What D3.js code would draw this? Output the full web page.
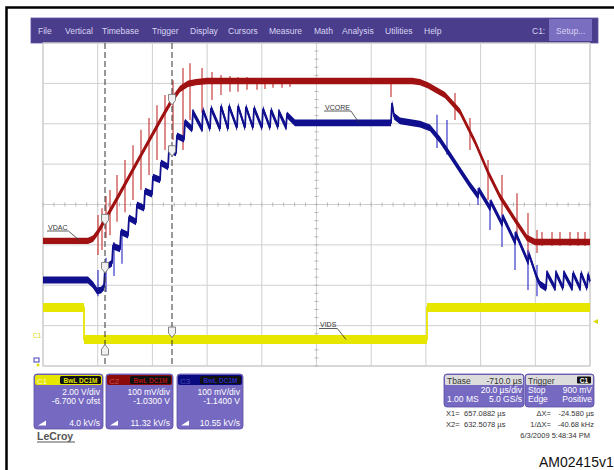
<!DOCTYPE html>
<html><head><meta charset="utf-8">
<script src="https://cdn.jsdelivr.net/npm/d3@7"></script>
<style>
html,body{margin:0;padding:0;background:#fff;}
svg{display:block;font-family:"Liberation Sans",Arial,sans-serif;}
</style></head><body>
<svg id="c" width="614" height="470"></svg>
<script>
// ================= DATA =================
const menuItems = ["File","Vertical","Timebase","Trigger","Display","Cursors","Measure","Math","Analysis","Utilities","Help"];
const timeDomain = [0, 200];              // µs across the screen (20 µs/div, 10 div)
const chNames = ["C1","C2","C3"];
const chVdiv = [2.0, 0.1, 0.1];           // V/div
const chOffset = [-6.7, -1.03, -1.14];    // V offset
const chVdivLabel = ["2.00 V/div","100 mV/div","100 mV/div"];
const chOffsetLabel = ["-6.700 V ofst","-1.0300 V","-1.1400 V"];
const chRateLabel = ["4.0 kV/s","11.32 kV/s","10.55 kV/s"];
const chBadge = "BwL DC1M";

// C1 (yellow, VIDS) [µs, V]
const yellowTrace = [[0,1.6],[15.0,1.6],[15.0,0.01],[140.4,0.01],[140.4,1.6],[200,1.6]];

// C2 (red, VDAC) [µs, V]
const redTrace = [[0,0.940],[16.45,0.940],[18.28,0.945],[20.11,0.962],[22.67,0.992],[28.15,1.058],[35.47,1.148],
  [42.78,1.237],[47.17,1.289],[50.09,1.316],[53.02,1.329],[55.94,1.333],[60.0,1.336],[93.97,1.336],[135.0,1.336],
  [137.84,1.333],[140.77,1.325],[146.98,1.301],[152.47,1.260],[157.95,1.185],[162.71,1.110],[167.09,1.050],
  [172.58,0.992],[176.97,0.947],[179.89,0.937],[200,0.937]];
// red spikes [µs, Vtop, Vbottom]
const redSpikes = [[20.11,1.004,0.905],[21.57,1.021,0.917],[23.03,1.051,0.947],[24.50,1.066,0.954],[27.06,1.103,0.987],
  [29.98,1.140,1.011],[32.91,1.177,1.041],[35.83,1.215,1.066],[38.76,1.244,1.103],[41.68,1.276,1.140],[44.61,1.301,1.165],
  [47.53,1.338,1.190],[51.19,1.368,1.165],[53.75,1.380,1.239],[58.14,1.368,1.257],[61.79,1.358,1.289],[65.08,1.351,1.301],
  [68.37,1.348,1.309],[71.30,1.346,1.309],[74.59,1.346,1.314],[78.24,1.343,1.314],[81.17,1.343,1.316],[84.10,1.343,1.319],
  [87.39,1.343,1.319],[90.31,1.341,1.321],[127.24,1.343,1.296],[150.64,1.306,1.239],[156.12,1.244,1.165],
  [162.71,1.140,1.041],[167.82,1.103,1.004],[173.31,1.058,0.942],[177.33,1.009,0.893],[180.62,0.967,0.910],
  [182.45,0.962,0.927],[186.11,0.962,0.927],[189.03,0.962,0.927],[192.69,0.962,0.927],[195.61,0.962,0.927],[198.17,0.962,0.927]];

// C3 (blue, VCORE) [µs, V]
const blueTrace = [[0,0.953],[16.45,0.953],[18.28,0.941],[19.74,0.926],[21.21,0.928],
  [22.30,0.936],[22.67,0.983],[25.23,0.995],[25.59,1.037],[28.15,1.030],[28.52,1.072],[31.08,1.064],[31.44,1.107],
  [34.00,1.097],[34.37,1.139],[36.93,1.131],[37.29,1.173],[39.85,1.166],[40.22,1.208],[42.78,1.201],[43.14,1.243],
  [45.70,1.233],[46.07,1.275],[48.63,1.268],[48.99,1.310],[51.55,1.302],[51.92,1.344],[54.48,1.327],[54.84,1.369],
  [58.14,1.327],[58.50,1.374],[61.06,1.327],[61.43,1.379],[64.72,1.327],[65.08,1.384],[67.64,1.327],[68.01,1.384],
  [70.93,1.330],[71.30,1.384],[73.86,1.330],[74.22,1.382],[76.78,1.330],[77.15,1.379],[80.07,1.330],[80.44,1.377],
  [83.00,1.330],[83.36,1.374],[85.92,1.332],[86.29,1.369],[88.85,1.332],[89.21,1.362],[92.14,1.342],
  [126.87,1.342],[127.24,1.342],[127.61,1.391],[128.34,1.359],[130.53,1.347],[137.84,1.339],[141.50,1.330],
  [145.16,1.300],[148.81,1.263],[152.47,1.225],[156.12,1.188],[159.05,1.161],[159.41,1.176],[163.44,1.131],[163.80,1.146],
  [167.82,1.092],[168.19,1.109],[172.58,1.047],[172.94,1.067],[177.33,0.998],[177.70,1.017],[180.62,0.958],[181.72,0.943],
  [183.91,0.933],[184.28,0.970],[187.20,0.933],[187.57,0.970],[190.13,0.933],[190.49,0.970],[193.42,0.933],[193.78,0.970],
  [196.34,0.933],[196.71,0.970],[198.90,0.933],[199.27,0.968],[200,0.950]];
const blueSpikes = [[20.11,0.978,0.913],[23.03,1.008,0.923],[25.96,1.047,0.963],[28.88,1.077,0.993],
  [144.06,1.362,1.280],[147.71,1.349,1.263],[159.05,1.181,1.139],[163.44,1.151,1.077],[167.82,1.114,1.035],
  [172.58,1.072,0.978],[177.33,1.027,0.928],[180.62,0.990,0.913]];

const cursorTimes = [22.67, 47.17];       // µs
const traceLabels = ["VDAC","VCORE","VIDS"];
const traceLabelTargets = [[13.5,1,0.940],[115.6,2,1.342],[110.8,0,0.01]]; // [µs, channel, V]

const tbaseRows = [["Tbase","-710.0 µs"],["","20.0 µs/div"],["1.00 MS","5.0 GS/s"]];
const trigRows = [["Trigger",""],["Stop","900 mV"],["Edge","Positive"]];
const cursorReadout = [["X1=","657.0882 µs","ΔX=","-24.580 µs"],["X2=","632.5078 µs","1/ΔX=","-40.68 kHz"]];
const timestamp = "6/3/2009 5:48:34 PM";
const figId = "AM02415v1";

// ================= LAYOUT / STYLE =================
const svg = d3.select("#c");
const P = {l:43, r:590, t:43, b:366};
const chColor = ["#e6e600","#a01212","#10108e"];
const spikeColor = ["#e6e600","#c83a3a","#3434c8"];
const headColor = ["#e6e600","#8c0a0a","#0a0a80"];
const badgeText = ["#e6e600","#b01010","#2828c8"];
const purple = "#7669c2";
const menuX = [38,65,102,152,190,228,269,314,342,385,424];

const x = d3.scaleLinear().domain(timeDomain).range([P.l, P.r]);
const div = d3.scaleLinear().domain([-4,4]).range([P.b, P.t]);
const yS = chNames.map((n,i)=>{const c=-chOffset[i], v=chVdiv[i];
  return d3.scaleLinear().domain([c-4*v, c+4*v]).range([P.b, P.t]);});

// outer frame
svg.append("path").attr("d","M6.5,470V7.5H614").attr("fill","none").attr("stroke","#000").attr("stroke-width",2.5);

// menu bar
svg.append("rect").attr("x",31).attr("y",18).attr("width",567).attr("height",25).attr("fill","#4a3d8c").attr("stroke","#5d52a0").attr("stroke-width",0.8);
svg.selectAll(".menu").data(menuItems).join("text").attr("x",(d,i)=>menuX[i]).attr("y",34)
  .attr("font-size",8.5).attr("fill","#d8d4f2").text(d=>d);
svg.append("text").attr("x",532).attr("y",34).attr("font-size",8.5).attr("fill","#d8d4f2").text("C1:");
svg.append("rect").attr("x",549).attr("y",19).attr("width",43).attr("height",22).attr("fill","#7a6ec0");
svg.append("text").attr("x",556).attr("y",34).attr("font-size",8.5).attr("fill","#d8d4f2").text("Setup...");

// plot area & grid
svg.append("rect").attr("x",P.l).attr("y",P.t).attr("width",P.r-P.l).attr("height",P.b-P.t).attr("fill","#fff").attr("stroke","#c4c4c4");
const g = svg.append("g");
g.selectAll(".vg").data(d3.range(0,201,20)).join("line").attr("x1",d=>x(d)).attr("x2",d=>x(d)).attr("y1",P.t).attr("y2",P.b)
  .attr("stroke","#cfcfcf").attr("stroke-width",1);
g.selectAll(".hg").data(d3.range(-4,5)).join("line").attr("y1",d=>div(d)).attr("y2",d=>div(d)).attr("x1",P.l).attr("x2",P.r)
  .attr("stroke","#cfcfcf").attr("stroke-width",1);
g.selectAll(".mt").data(d3.range(0,201,4)).join("line").attr("x1",d=>x(d)).attr("x2",d=>x(d)).attr("y1",div(0)-2).attr("y2",div(0)+2).attr("stroke","#b8b8b8");
g.selectAll(".mt2").data(d3.range(-4,4.01,0.2)).join("line").attr("y1",d=>div(d)).attr("y2",d=>div(d)).attr("x1",x(100)-2).attr("x2",x(100)+2).attr("stroke","#b8b8b8");

// traces
function drawSpikes(data, ci, w){
  svg.append("g").selectAll("line").data(data).join("line")
    .attr("x1",d=>x(d[0])).attr("x2",d=>x(d[0])).attr("y1",d=>yS[ci](d[1])).attr("y2",d=>yS[ci](d[2]))
    .attr("stroke",spikeColor[ci]).attr("stroke-width",w).attr("opacity",0.9);
}
function drawTrace(data, ci, hw){
  const area = d3.area().x(d=>x(d[0])).y0(d=>yS[ci](d[1])-hw).y1(d=>yS[ci](d[1])+hw);
  svg.append("path").attr("d",area(data)).attr("fill",chColor[ci]);
  const line = d3.line().x(d=>x(d[0])).y(d=>yS[ci](d[1]));
  svg.append("path").attr("d",line(data)).attr("fill","none").attr("stroke",chColor[ci]).attr("stroke-width",1.8);
}
drawTrace(yellowTrace,0,4.5);
drawSpikes(redSpikes,1,1.3);
drawTrace(redTrace,1,3.2);
drawSpikes(blueSpikes,2,1.3);
drawTrace(blueTrace,2,3.4);

// cursors
svg.selectAll(".cur").data(cursorTimes).join("line").attr("x1",d=>x(d)).attr("x2",d=>x(d)).attr("y1",P.t).attr("y2",P.b)
  .attr("stroke","#333").attr("stroke-width",1).attr("stroke-dasharray","6,3");
function interp(tr,t){for(let i=0;i<tr.length-1;i++){if(tr[i][0]<=t&&t<=tr[i+1][0]){const a=tr[i],b=tr[i+1];
  return b[0]===a[0]?a[1]:a[1]+(b[1]-a[1])*(t-a[0])/(b[0]-a[0]);}}return tr[tr.length-1][1];}
const downArrow = "M-3.5,-5.5H3.5V0.5L0,5L-3.5,0.5Z";
const upArrow = "M-3.5,5.5H3.5V-0.5L0,-5L-3.5,-0.5Z";
cursorTimes.forEach((t,k)=>{
  [[redTrace,1],[blueTrace,2]].forEach(([tr,ci])=>{
    svg.append("path").attr("d",downArrow).attr("transform",`translate(${x(t)},${yS[ci](interp(tr,t))})`)
      .attr("fill","#f0f0f0").attr("stroke","#777").attr("stroke-width",0.9);
  });
  const yy = yS[0](interp(yellowTrace,t));
  svg.append("path").attr("d",k===0?upArrow:downArrow).attr("transform",`translate(${x(t)},${k===0?yy+10:yy-7})`)
    .attr("fill","#f0f0f0").attr("stroke","#777").attr("stroke-width",0.9);
});

// trace labels
const labPos = [[48,229.5],[325,109.5],[320,327]];
traceLabels.forEach((s,i)=>{
  const [lx,ly]=labPos[i];
  const t = svg.append("text").attr("x",lx).attr("y",ly).attr("font-size",7).attr("fill","#333").text(s);
  const w = t.node().getComputedTextLength();
  svg.append("line").attr("x1",lx-1).attr("x2",lx+w+1).attr("y1",ly+1.5).attr("y2",ly+1.5).attr("stroke","#333").attr("stroke-width",0.8);
  const [tt,ci,v]=traceLabelTargets[i];
  svg.append("line").attr("x1",lx+w+1).attr("y1",ly+1.5).attr("x2",x(tt)).attr("y2",yS[ci](v)).attr("stroke","#333").attr("stroke-width",0.8);
});

// side markers
svg.append("text").attr("x",33).attr("y",338).attr("font-size",6.5).attr("fill","#d8d800").text("C1");
svg.append("path").attr("d",`M${P.r+3},${yS[0](0.9)}l5,-2.5v5z`).attr("fill","#d8d800");
svg.append("rect").attr("x",34).attr("y",358).attr("width",5).attr("height",4).attr("fill","none").attr("stroke","#4040c0").attr("stroke-width",1);
svg.append("circle").attr("cx",38).attr("cy",365).attr("r",1.5).attr("fill","#e0e000");

// channel boxes
const boxX=[34,106,177], boxW=[69,67,66];
chNames.forEach((n,i)=>{
  const x0=boxX[i], w=boxW[i], gg=svg.append("g");
  gg.append("rect").attr("x",x0).attr("y",374).attr("width",w).attr("height",55).attr("rx",3).attr("fill",purple).attr("stroke","#5b4fa6").attr("stroke-width",0.8);
  gg.append("rect").attr("x",x0+1).attr("y",375).attr("width",w-2).attr("height",10).attr("rx",2).attr("fill",headColor[i]);
  gg.append("text").attr("x",x0+3).attr("y",383.5).attr("font-size",8).attr("fill",i===0?"#fbfbd0":(i===1?"#c05050":"#4a4ab0")).text(n);
  gg.append("rect").attr("x",x0+w-43).attr("y",376).attr("width",41).attr("height",8).attr("rx",1.5).attr("fill","#111");
  gg.append("text").attr("x",x0+w-22.5).attr("y",382.7).attr("text-anchor","middle").attr("font-size",6.5).attr("font-weight","bold").attr("fill",badgeText[i]).text(chBadge);
  const tx = x0+w-3;
  gg.append("text").attr("x",tx).attr("y",394.5).attr("text-anchor","end").attr("font-size",8.5).attr("fill","#fff").text(chVdivLabel[i]);
  gg.append("text").attr("x",tx).attr("y",403.5).attr("text-anchor","end").attr("font-size",8.5).attr("fill","#fff").text(chOffsetLabel[i]);
  gg.append("text").attr("x",tx).attr("y",425.5).attr("text-anchor","end").attr("font-size",8.5).attr("fill","#fff").text(chRateLabel[i]);
  gg.append("path").attr("d",`M${x0+4},425.5H${x0+12}V420.5Z`).attr("fill","#fff");
});

// LeCroy
svg.append("text").attr("x",37).attr("y",440).attr("font-size",10.5).attr("font-weight","bold").attr("fill","#555").text("LeCroy");
svg.append("line").attr("x1",37).attr("x2",75).attr("y1",442).attr("y2",442).attr("stroke","#555").attr("stroke-width",1);

// timebase / trigger boxes
function infoBox(x0,w,rows,badge){
  const gg=svg.append("g");
  gg.append("rect").attr("x",x0).attr("y",374).attr("width",w).attr("height",33).attr("rx",3).attr("fill",purple).attr("stroke","#5b4fa6").attr("stroke-width",0.8);
  gg.append("rect").attr("x",x0+1).attr("y",375).attr("width",w-2).attr("height",10).attr("rx",1.5).attr("fill","#dcdcdc");
  rows.forEach((r,k)=>{
    const yy=383.5+k*9, col=k===0?"#333":"#fff";
    gg.append("text").attr("x",x0+3).attr("y",yy).attr("font-size",8.5).attr("fill",col).text(r[0]);
    gg.append("text").attr("x",x0+w-2).attr("y",yy).attr("text-anchor","end").attr("font-size",8.5).attr("fill",col).text(r[1]);
  });
  if(badge){
    gg.append("rect").attr("x",x0+w-17).attr("y",376.5).attr("width",14).attr("height",7).attr("rx",1).attr("fill","#111");
    gg.append("text").attr("x",x0+w-10).attr("y",382.5).attr("text-anchor","middle").attr("font-size",6.5).attr("font-weight","bold").attr("fill","#fff").text(badge);
  }
}
infoBox(444,80,tbaseRows);
infoBox(525,69,trigRows,"C1");

// cursor readout
cursorReadout.forEach((r,k)=>{
  const yy=416+k*11;
  svg.append("text").attr("x",446).attr("y",yy).attr("font-size",7.5).attr("fill","#333").text(r[0]);
  svg.append("text").attr("x",464).attr("y",yy).attr("font-size",7.5).attr("fill","#333").text(r[1]);
  svg.append("text").attr("x",551).attr("y",yy).attr("text-anchor","end").attr("font-size",7.5).attr("fill","#333").text(r[2]);
  svg.append("text").attr("x",594).attr("y",yy).attr("text-anchor","end").attr("font-size",7.5).attr("fill","#333").text(r[3]);
});
svg.append("text").attr("x",590).attr("y",438).attr("text-anchor","end").attr("font-size",7.5).attr("fill","#333").text(timestamp);
svg.append("text").attr("x",539).attr("y",467).attr("font-size",14).attr("fill","#111").text(figId);
</script></body></html>
